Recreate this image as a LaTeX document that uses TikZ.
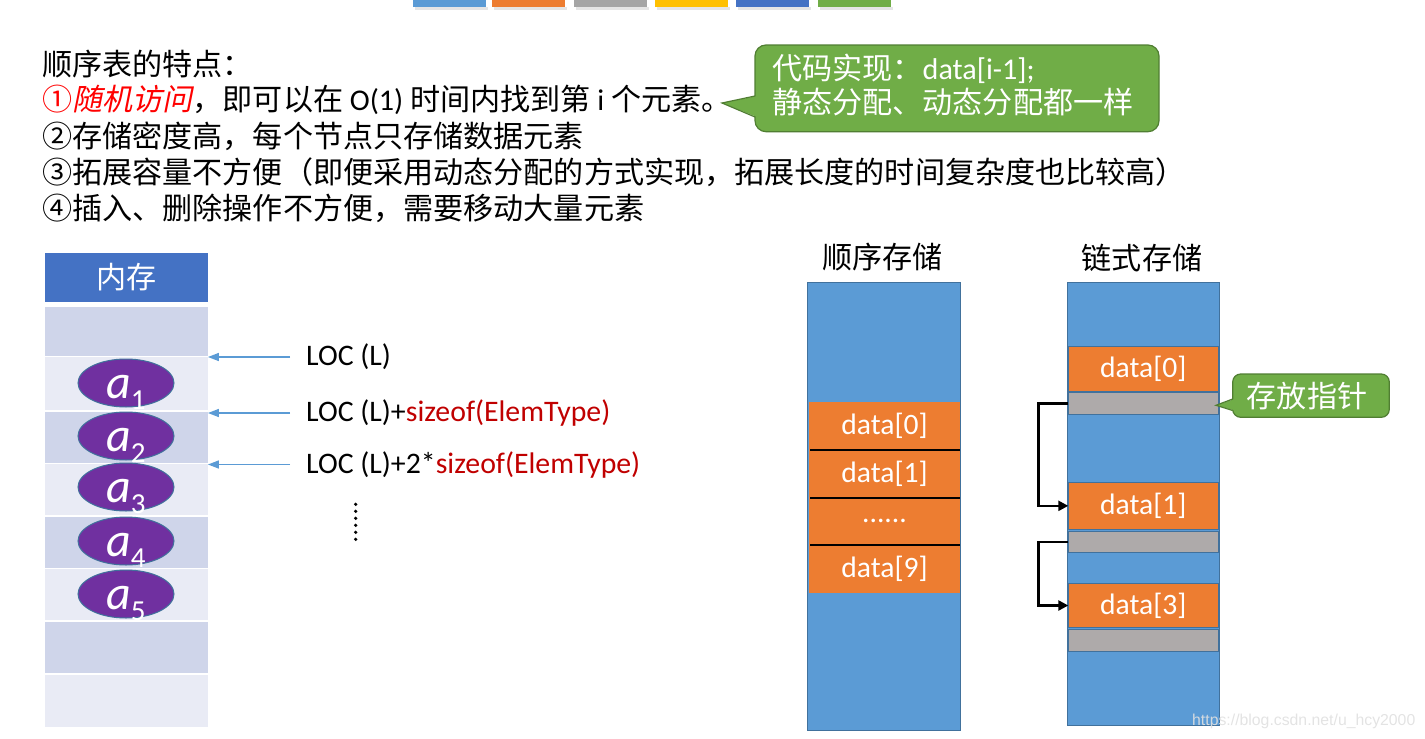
\documentclass[tikz,border=0pt]{standalone}
\usepackage{fontspec}
\setmainfont{Carlito}[Numbers=Lining]
\newfontfamily\zh{Noto Sans CJK SC}
\newfontfamily\zhit{Noto Sans CJK SC}[FakeSlant=0.2]
\newfontfamily\wmfont{Liberation Sans}
\usetikzlibrary{arrows.meta,shapes.geometric}
\definecolor{cblue}{HTML}{5B9BD5}
\definecolor{corange}{HTML}{ED7D31}
\definecolor{cgray}{HTML}{A5A5A5}
\definecolor{cyellow}{HTML}{FFC000}
\definecolor{cdblue}{HTML}{4472C4}
\definecolor{cgreen}{HTML}{70AD47}
\definecolor{cgreenB}{HTML}{507E32}
\definecolor{cellD}{HTML}{CFD5EA}
\definecolor{cellL}{HTML}{E9EBF5}
\definecolor{elfill}{HTML}{7030A0}
\definecolor{colB}{HTML}{41719C}
\definecolor{slot}{HTML}{AEAAAA}
\definecolor{cred}{HTML}{C00000}
\definecolor{bred}{HTML}{FF0000}
\tikzset{
  txt/.style={anchor=west, inner sep=0, font=\zh\fontsize{30.1}{36}\selectfont},
  ctxt/.style={txt, text=white},
  loc/.style={anchor=west, inner sep=0, font=\fontsize{29.8}{34}\selectfont},
  cell/.style={rectangle, minimum width=162.7pt, inner sep=0},
  elem/.style={ellipse, minimum width=96pt, minimum height=48pt, inner sep=0, fill=elfill, draw=colB, line width=1pt},
  elab/.style={anchor=base, inner sep=0, text=white, font=\fontsize{48}{48}\selectfont},
  ptr/.style={draw=cblue, line width=1.4pt, -{Triangle[length=11pt,width=8pt]}},
  column/.style={rectangle, inner sep=0, fill=cblue, draw=colB, line width=1pt},
  oblock/.style={rectangle, inner sep=0, fill=corange, text=white, font=\fontsize{29.6}{34}\selectfont},
  lblock/.style={oblock, draw=colB, line width=0.8pt},
  sblock/.style={rectangle, inner sep=0, fill=slot, draw=colB, line width=0.8pt},
  sepline/.style={draw=black, line width=1.8pt},
  link/.style={draw=black, line width=2.4pt, -{Triangle[length=10pt,width=10pt]}},
  callout/.style={fill=cgreen, draw=cgreenB, line width=1.2pt},
  title/.style={inner sep=0, font=\zh\fontsize{30.1}{36}\selectfont}
}
\begin{document}
\begin{tikzpicture}[x=1pt, y=-1pt]
\useasboundingbox (0,0) rectangle (1425,739);
% top colour bars
\foreach \a/\b/\c in {412.7/486/cblue, 492/565/corange, 574/647/cgray, 655/728/cyellow, 736/809/cdblue, 818/891/cgreen}{
  \fill[black!10] (\a+2,6.7) rectangle (\b+2,10);
  \fill[\c] (\a,0) rectangle (\b,6.7);
}
% main text
\node[txt] (t1) at (42,64) {顺序表的特点：};
\node[txt] (t2) at (42,100) {{\color{bred}①\zhit 随机访问}，即可以在 {\rmfamily O(1)} 时间内找到第 {\rmfamily i} 个元素。};
\node[txt] (t3) at (42,136) {②存储密度高，每个节点只存储数据元素};
\node[txt] (t4) at (42,172) {③拓展容量不方便（即便采用动态分配的方式实现，拓展长度的时间复杂度也比较高）};
\node[txt] (t5) at (42,208) {④插入、删除操作不方便，需要移动大量元素};
% callout 1
\node[callout, rectangle, rounded corners=11pt, minimum width=404pt, minimum height=86.7pt, inner sep=0] (c1) at (957,88.35) {};
\fill[cgreen] (757,96) -- (722,103) -- (757,117) -- cycle;
\draw[cgreenB, line width=1.2pt, line join=miter] (755,96) -- (722,103) -- (755,117);
\node[ctxt] (c1a) at (772,69) {代码实现：{\rmfamily data[i-1];}};
\node[ctxt] (c1b) at (772,102.5) {静态分配、动态分配都一样};
% memory column
\node[cell, fill=cdblue, minimum height=49.3pt, text=white, font=\zh\fontsize{30.1}{36}\selectfont] (hdr) at (126.35,277.35) {内存};
\node[cell, fill=cellD, minimum height=49.3pt] (r1) at (126.35,331.35) {};
\node[cell, fill=cellL, minimum height=52.7pt] (r2) at (126.35,383.65) {};
\node[cell, fill=cellD, minimum height=51pt] (r3) at (126.35,437.2) {};
\node[cell, fill=cellL, minimum height=51pt] (r4) at (126.35,489.5) {};
\node[cell, fill=cellD, minimum height=51pt] (r5) at (126.35,542.2) {};
\node[cell, fill=cellL, minimum height=50.7pt] (r6) at (126.35,594.65) {};
\node[cell, fill=cellD, minimum height=51pt] (r7) at (126.35,647.8) {};
\node[cell, fill=cellL, minimum height=51.7pt] (r8) at (126.35,700.85) {};
% elements
\foreach \n/\y in {1/383, 2/436, 3/487, 4/541, 5/594}{
  \node[elem] (a\n) at (126,\y) {};
  \node[elab] (al\n) at ([yshift=-15pt]a\n.center) {\textit{a}\raisebox{-11pt}{\fontsize{29}{29}\selectfont \n}};
}
% address labels and arrows
\node[loc] (l1) at (306,357) {LOC (L)};
\node[loc] (l2) at (306,413) {LOC (L)+{\color{cred}sizeof(ElemType)}};
\node[loc] (l3) at (306,464.5) {LOC (L)+2*{\color{cred}sizeof(ElemType)}};
\draw[ptr] ([xshift=-16pt]l1.west) -- (l1.west -| r2.east);
\draw[ptr] ([xshift=-16pt]l2.west) -- (l2.west -| r2.east);
\draw[ptr] ([xshift=-16pt]l3.west) -- (l3.west -| r2.east);
\foreach \i in {0,...,5} \fill (355.7,504.3+\i*7) circle (1.8);
% sequential storage
\node[title] (st) at (882.5,257) {顺序存储};
\node[column, minimum width=153pt, minimum height=447.3pt] (seq) at (883.5,506.35) {};
\node[oblock, minimum width=151pt, minimum height=48.3pt] (s0) at (884.5,425.85) {data[0]};
\node[oblock, minimum width=151pt, minimum height=47.7pt] (s1) at (884.5,473.85) {data[1]};
\node[oblock, minimum width=151pt, minimum height=47.3pt] (s2) at (884.5,521.35) {......};
\node[oblock, minimum width=151pt, minimum height=47.7pt] (s3) at (884.5,568.85) {data[9]};
\draw[sepline] ([xshift=1.5pt]s0.south west) -- (s0.south east);
\draw[sepline] ([xshift=1.5pt]s1.south west) -- (s1.south east);
\draw[sepline] ([xshift=1.5pt]s2.south west) -- (s2.south east);
% linked storage
\node[title] (lt) at (1142,258) {链式存储};
\node[column, minimum width=152pt, minimum height=442.3pt] (lnk) at (1143.3,503.85) {};
\node[lblock, minimum width=149.3pt, minimum height=45pt] (d0) at (1143.35,368.5) {data[0]};
\node[sblock, minimum width=149.3pt, minimum height=21.6pt] (g0) at (1143.35,403.5) {};
\node[lblock, minimum width=149.3pt, minimum height=46.3pt] (d1) at (1143.35,505.85) {data[1]};
\node[sblock, minimum width=149.3pt, minimum height=21.7pt] (g1) at (1143.35,541.85) {};
\node[lblock, minimum width=149.3pt, minimum height=44.4pt] (d3) at (1143.35,605.5) {data[3]};
\node[sblock, minimum width=149.3pt, minimum height=22.4pt] (g3) at (1143.35,640.5) {};
\draw[link] (g0.west) -- ++(-30,0) |- (d1.west);
\draw[link] (g1.west) -- ++(-30,0) |- (d3.west);
% callout 2
\node[callout, rectangle, rounded corners=8pt, minimum width=156.6pt, minimum height=43.3pt, inner sep=0] (c2) at (1311,395.65) {};
\fill[cgreen] (1234.6,399) -- (1216,405.3) -- (1234.6,410.5) -- cycle;
\draw[cgreenB, line width=1.2pt, line join=miter] (1232.7,399) -- (1216,405.3) -- (1232.7,410.5);
\node[title, text=white] (c2t) at (1307,396.5) {存放指针};
% watermark
\node[anchor=west, inner sep=0, text=black!12, opacity=0.9, font=\wmfont\fontsize{15.8}{18}\selectfont] (wm) at (1192,721) {https://blog.csdn.net/u\_hcy2000};
\end{tikzpicture}
\end{document}
